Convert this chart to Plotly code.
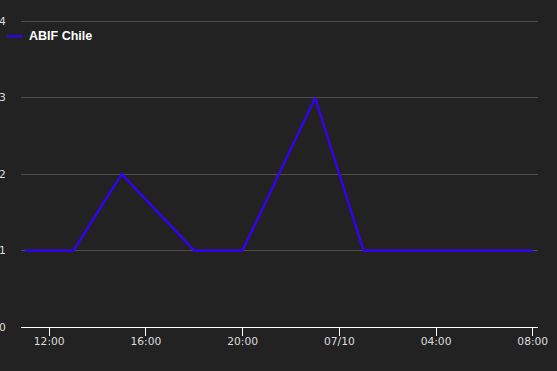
import plotly.graph_objects as go

times = ["2023-07-09 11:00", "2023-07-09 13:00", "2023-07-09 15:00", "2023-07-09 18:00",
         "2023-07-09 20:00", "2023-07-09 23:00", "2023-07-10 01:00", "2023-07-10 08:00"]
values = [1, 1, 2, 1, 1, 3, 1, 1]
series_name = "ABIF Chile"
tick_times = ["2023-07-09 12:00", "2023-07-09 16:00", "2023-07-09 20:00",
              "2023-07-10 00:00", "2023-07-10 04:00", "2023-07-10 08:00"]
tick_labels = ["12:00", "16:00", "20:00", "07/10", "04:00", "08:00"]
y_ticks = [0, 1, 2, 3, 4]

line_color = "#3300ff"

fig = go.Figure()
fig.add_trace(go.Scatter(x=times, y=values, mode="lines", name=series_name,
                         line=dict(color=line_color, width=2.2), showlegend=False))

# legend drawn as a key line + label, top-left
fig.add_shape(type="line", xref="paper", yref="paper",
              x0=-0.0271, x1=0.0039, y0=0.944, y1=0.944,
              line=dict(color=line_color, width=2.2))
fig.add_annotation(xref="paper", yref="paper", x=0.0115, y=0.944,
                   xanchor="left", yanchor="middle", showarrow=False,
                   text="<b>" + series_name + "</b>",
                   font=dict(family="Liberation Sans", size=12.5, color="#ffffff"))

fig.update_layout(
    width=557, height=371,
    margin=dict(l=21, r=19, t=19, b=44, autoexpand=False),
    paper_bgcolor="#222222", plot_bgcolor="#222222",
    font=dict(family="DejaVu Sans", color="#dddddd", size=11),
    xaxis=dict(range=["2023-07-09 10:50", "2023-07-10 08:13"],
               tickvals=tick_times, ticktext=tick_labels,
               showgrid=False, zeroline=False, automargin=False,
               showline=True, linecolor="#ffffff", linewidth=1,
               ticks="outside", ticklen=8, tickcolor="#ffffff", tickwidth=1,
               ticklabelstandoff=-4,
               tickfont=dict(size=10.7, color="#dddddd")),
    yaxis=dict(range=[0, 4.03], tickvals=y_ticks, showgrid=True,
               gridcolor="#4d4d4d", gridwidth=1,
               zeroline=False, showline=False, automargin=False,
               ticks="outside", ticklen=12, tickcolor="#222222",
               tickfont=dict(size=10.7, color="#dddddd")),
)

fig.write_html("out.html")
